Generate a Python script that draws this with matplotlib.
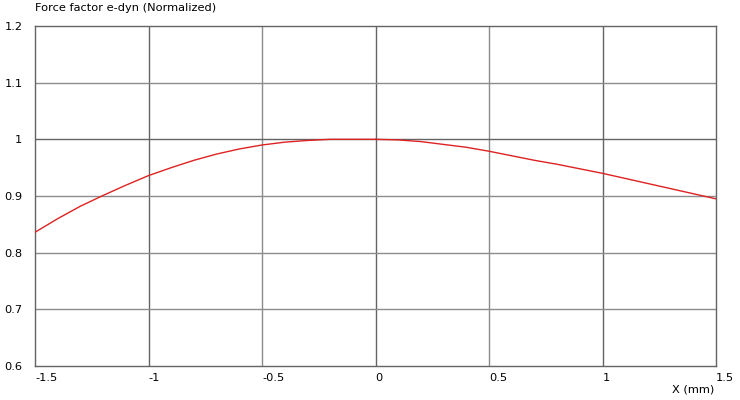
import matplotlib
matplotlib.use("Agg")
import matplotlib.pyplot as plt

x_left = [-1.5, -1.4, -1.3, -1.2, -1.1, -1.0, -0.9, -0.8, -0.7, -0.6, -0.5, -0.4, -0.3, -0.2, -0.1, 0.0]
y_left = [0.836, 0.860, 0.882, 0.901, 0.919, 0.936, 0.950, 0.963, 0.974, 0.983, 0.990, 0.995, 0.998, 1.000, 1.000, 1.000]
x_right = [0.0, 0.1, 0.2, 0.3, 0.4, 0.5, 0.6, 0.7, 0.8, 0.9, 1.0, 1.1, 1.2, 1.3, 1.4, 1.5]
y_right = [1.000, 0.999, 0.996, 0.991, 0.986, 0.979, 0.971, 0.963, 0.956, 0.948, 0.940, 0.931, 0.922, 0.913, 0.904, 0.895]

x_ticks = [-1.5, -1, -0.5, 0, 0.5, 1, 1.5]
x_tick_labels = ["-1.5", "-1", "-0.5", "0", "0.5", "1", "1.5"]
y_ticks = [0.6, 0.7, 0.8, 0.9, 1.0, 1.1, 1.2]
y_tick_labels = ["0.6", "0.7", "0.8", "0.9", "1", "1.1", "1.2"]

plt.rcParams['font.family'] = ['DejaVu Sans']
fs = 8.2
fig = plt.figure(figsize=(7.4, 4.0), dpi=100)
ax = fig.add_axes([35/740, 1-366/400, (716-35)/740, (366-26)/400])
ax.set_xlim(-1.5, 1.5)
ax.set_ylim(0.6, 1.2)

dark = "#646464"
light = "#8c8c8c"
for xv in x_ticks[1:-1]:
    ax.axvline(xv, color=dark if float(xv).is_integer() else light, lw=1, zorder=1)
for yv in y_ticks[1:-1]:
    ax.axhline(yv, color=dark if abs(yv - 1.0) < 1e-9 else light, lw=1, zorder=1)

ax.plot(x_left, y_left, color="#dd2222", lw=1, zorder=3)
ax.plot(x_right, y_right, color="#dd2222", lw=1, zorder=3)

for s in ax.spines.values():
    s.set_color(dark)
    s.set_linewidth(1)

ax.set_xticks(x_ticks)
ax.set_xticklabels(x_tick_labels, ha="left")
ax.set_yticks(y_ticks)
ax.set_yticklabels(y_tick_labels)
ax.tick_params(axis="both", length=0, labelsize=fs, colors="#000000")
ax.tick_params(axis="x", pad=5)
ax.tick_params(axis="y", pad=9)

fig.text(35/740, 1-8/400, "Force factor e-dyn (Normalized)", fontsize=fs, ha="left", va="center")
fig.text(714/740, 1-390/400, "X (mm)", fontsize=fs, ha="right", va="center")

fig.savefig("out.png", dpi=100, facecolor="white")
